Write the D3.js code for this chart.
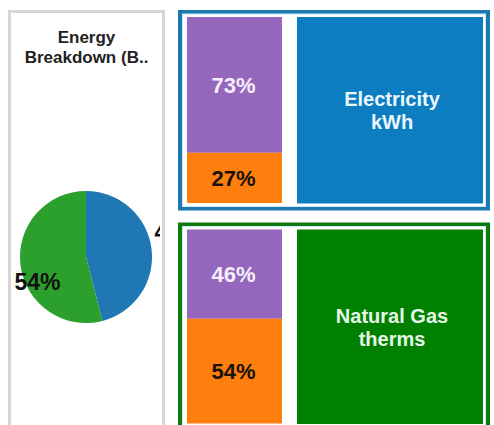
<!DOCTYPE html>
<html>
<head>
<meta charset="utf-8">
<script src="https://cdn.jsdelivr.net/npm/d3@7"></script>
<style>
  html, body { margin: 0; padding: 0; background: #fff; overflow: hidden; }
  svg { display: block; font-family: "Liberation Sans", Arial, sans-serif; }
</style>
</head>
<body>
<svg id="chart" width="494" height="425"></svg>
<script>
// Energy sources and their share of the total
const sources = ["Electricity", "Natural Gas"];
const units = ["kWh", "therms"];
const sourceShare = [46, 54];
// Split of each source into two parts (top segment / bottom segment)
const upperShare = [73, 46];
const lowerShare = [27, 54];
const titleLines = ["Energy", "Breakdown (B.."];

const sourceFill = ["#0b7dc0", "#008000"];
const sourceBorder = ["#1b78b0", "#0c7a0c"];
const sourceText = ["#eaf6fb", "#e6f7e6"];
const pieFill = ["#1f77b4", "#2ca02c"];
const segFill = ["#9467bd", "#ff7f0e"];
const segText = ["#f6eefb", "#1a1208"];

const svg = d3.select("#chart");

// ---- left panel: pie of source shares ----
const left = { x0: 8, x1: 165, y0: 10, y1: 440 };
svg.append("rect")
  .attr("x", left.x0 + 1.5).attr("y", left.y0 + 1.5)
  .attr("width", left.x1 - left.x0 - 3).attr("height", left.y1 - left.y0)
  .attr("fill", "#fff").attr("stroke", "#d6d6d6").attr("stroke-width", 3);

svg.append("clipPath").attr("id", "leftClip")
  .append("rect")
  .attr("x", left.x0 + 3).attr("y", left.y0 + 3)
  .attr("width", left.x1 - left.x0 - 8).attr("height", left.y1 - left.y0);

const leftG = svg.append("g").attr("clip-path", "url(#leftClip)");
const cx = (left.x0 + left.x1) / 2;

leftG.append("text")
  .attr("x", cx).attr("y", 43)
  .attr("text-anchor", "middle")
  .attr("font-size", 17).attr("font-weight", "bold").attr("fill", "#222")
  .selectAll("tspan").data(titleLines).join("tspan")
  .attr("x", cx).attr("dy", (d, i) => i === 0 ? 0 : 20)
  .text(d => d);

const pieCx = 86, pieCy = 257, radius = 66;
const pie = d3.pie().sort(null);
const arcs = pie(sourceShare);
const arc = d3.arc().innerRadius(0).outerRadius(radius);
const pieG = leftG.append("g").attr("transform", `translate(${pieCx},${pieCy})`);
pieG.selectAll("path").data(arcs).join("path")
  .attr("d", arc)
  .attr("fill", (d, i) => pieFill[i]);

// labels sit just outside the rim on the first slice, across the second
const labelArc = d3.arc().innerRadius(radius + 3).outerRadius(radius + 3);
pieG.selectAll("text").data(arcs).join("text")
  .attr("transform", (d, i) => {
    const [x, y] = labelArc.centroid(d);
    return i === 0 ? `translate(${x},${y - 8})` : `translate(${x + 20},${y + 24})`;
  })
  .attr("text-anchor", (d, i) => i === 0 ? "start" : "middle")
  .attr("font-size", 23).attr("font-weight", "bold").attr("fill", "#111")
  .text(d => d.data + "%");

// ---- right panels: one per source ----
const panelX0 = 178, panelX1 = 490;
const panelTop = [10, 222.5];
const panelBottom = [210.5, 431];
const barX = d3.scaleLinear().domain([0, 1]).range([187, 282]);
const boxX = d3.scaleLinear().domain([0, 1]).range([297, 483]);

sources.forEach((name, i) => {
  const g = svg.append("g");
  const top = panelTop[i], bottom = panelBottom[i];
  g.append("rect")
    .attr("x", panelX0).attr("y", top)
    .attr("width", panelX1 - panelX0).attr("height", bottom - top)
    .attr("fill", sourceBorder[i]);
  g.append("rect")
    .attr("x", panelX0 + 4.5).attr("y", top + 4)
    .attr("width", panelX1 - panelX0 - 9).attr("height", bottom - top - 8)
    .attr("fill", "#fff").attr("stroke", "#cfe9f2").attr("stroke-width", 1);

  const innerTop = top + 7, innerBottom = bottom - 7.5;
  const y = d3.scaleLinear().domain([0, 100]).range([innerTop, innerBottom]);
  const segs = [
    { v0: 0, v1: upperShare[i], k: 0 },
    { v0: upperShare[i], v1: upperShare[i] + lowerShare[i], k: 1 }
  ];
  g.selectAll("rect.seg").data(segs).join("rect")
    .attr("class", "seg")
    .attr("x", barX(0)).attr("width", barX(1) - barX(0))
    .attr("y", d => y(d.v0)).attr("height", d => y(d.v1) - y(d.v0))
    .attr("fill", d => segFill[d.k]);
  g.selectAll("text.seg").data(segs).join("text")
    .attr("class", "seg")
    .attr("x", (barX(0) + barX(1)) / 2 - 1)
    .attr("y", d => (y(d.v0) + y(d.v1)) / 2)
    .attr("dy", "0.36em")
    .attr("text-anchor", "middle")
    .attr("font-size", 22).attr("font-weight", "bold")
    .attr("fill", d => segText[d.k])
    .text(d => (d.v1 - d.v0) + "%");

  g.append("rect")
    .attr("x", boxX(0)).attr("width", boxX(1) - boxX(0))
    .attr("y", y(0)).attr("height", y(100) - y(0) + 0.5)
    .attr("fill", sourceFill[i]);
  const midY = (y(0) + y(100)) / 2;
  g.append("text")
    .attr("text-anchor", "middle")
    .attr("font-size", 20).attr("font-weight", "bold")
    .attr("fill", sourceText[i])
    .selectAll("tspan").data([name, units[i]]).join("tspan")
    .attr("x", (boxX(0) + boxX(1)) / 2 + 2)
    .attr("y", (d, j) => midY - 4 + j * 23)
    .text(d => d);
});
</script>
</body>
</html>
